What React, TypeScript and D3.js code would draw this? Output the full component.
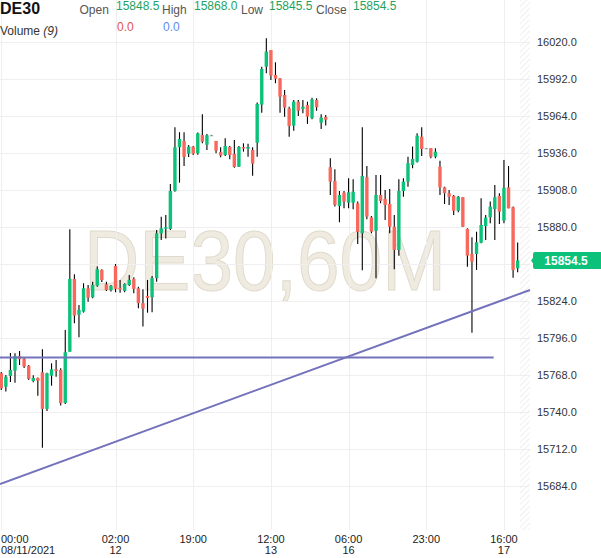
import React from 'react';
import * as d3 from 'd3';

// hourly candles
const opens = [
  15769.1, 15758.9, 15767.0, 15771.1, 15782.2, 15779.9, 15774.8, 15763.3, 15765.5, 15769.8,
  15742.1, 15767.3, 15772.1, 15771.6, 15746.6, 15785.4, 15840.5, 15813.4, 15815.7, 15833.4,
  15826.6, 15835.4, 15847.3, 15836.4, 15832.1, 15850.3, 15833.6, 15831.4, 15835.9, 15840.5,
  15833.4, 15822.1, 15827.6, 15826.6, 15841.0, 15875.0, 15878.5, 15878.3, 15907.0, 15940.1,
  15944.9, 15935.3, 15940.6, 15935.6, 15949.4, 15942.0, 15949.2, 15944.9, 15936.6, 15934.3,
  15940.3, 15935.1, 15925.4, 15940.3, 15939.1, 15938.1, 15943.6, 15972.4, 16001.1, 16013.7,
  15994.8, 15992.3, 15979.7, 15969.6, 15956.5, 15974.6, 15969.1, 15972.1, 15962.1, 15975.9,
  15958.7, 15963.0, 15925.0, 15914.6, 15895.7, 15905.8, 15898.2, 15898.2, 15897.7, 15875.0,
  15917.4, 15887.1, 15876.8, 15904.0, 15901.0, 15897.2, 15880.0, 15862.4, 15907.0, 15914.1,
  15926.7, 15929.2, 15948.1, 15939.4, 15939.4, 15933.0, 15925.4, 15909.8, 15905.3, 15903.3,
  15892.1, 15902.3, 15878.3, 15859.4, 15859.4, 15867.9, 15880.5, 15887.1, 15893.4, 15903.3,
  15884.6, 15909.8, 15894.7, 15848.5,
];
const highs = [
  15770.1, 15767.8, 15784.5, 15784.2, 15786.0, 15780.7, 15775.4, 15767.6, 15765.8, 15787.2,
  15769.5, 15776.6, 15779.1, 15772.9, 15801.9, 15878.0, 15844.0, 15820.8, 15837.2, 15835.9,
  15838.4, 15849.8, 15847.8, 15838.4, 15835.9, 15851.8, 15839.7, 15837.2, 15843.5, 15841.7,
  15834.6, 15832.6, 15839.7, 15842.7, 15877.5, 15887.6, 15888.9, 15912.3, 15955.2, 15951.5,
  15951.5, 15941.8, 15941.1, 15951.2, 15965.1, 15950.2, 15949.5, 15944.9, 15940.1, 15946.9,
  15941.1, 15945.6, 15941.1, 15943.1, 15942.8, 15940.1, 15973.9, 16001.1, 16022.6, 16013.7,
  16004.4, 15992.3, 15983.5, 15970.8, 15975.9, 15975.9, 15975.9, 15974.6, 15977.6, 15977.2,
  15965.1, 15964.6, 15931.8, 15923.5, 15907.0, 15907.0, 15916.7, 15915.9, 15899.0, 15955.2,
  15926.0, 15888.1, 15919.2, 15919.2, 15907.8, 15908.5, 15888.9, 15915.9, 15916.7, 15933.0,
  15940.6, 15950.7, 15955.2, 15939.6, 15939.4, 15939.4, 15930.0, 15910.3, 15907.8, 15904.0,
  15903.3, 15902.5, 15878.8, 15872.0, 15876.2, 15901.5, 15888.9, 15899.0, 15911.6, 15905.3,
  15930.5, 15925.9, 15895.2, 15868.0,
];
const lows = [
  15756.4, 15755.2, 15762.5, 15762.0, 15775.4, 15773.1, 15764.0, 15762.3, 15752.1, 15712.8,
  15740.6, 15759.7, 15766.5, 15744.6, 15745.9, 15785.4, 15806.9, 15796.4, 15815.0, 15823.3,
  15825.8, 15834.6, 15838.2, 15831.4, 15830.9, 15830.4, 15830.1, 15830.4, 15835.2, 15829.6,
  15818.3, 15804.4, 15814.9, 15815.2, 15838.4, 15870.0, 15871.0, 15877.5, 15906.5, 15913.3,
  15926.0, 15932.8, 15934.3, 15934.5, 15943.2, 15938.1, 15948.9, 15935.6, 15932.6, 15933.5,
  15931.1, 15924.7, 15925.2, 15936.8, 15933.0, 15918.6, 15933.0, 15966.3, 15996.1, 15991.1,
  15988.6, 15966.3, 15963.3, 15948.1, 15952.7, 15963.8, 15965.8, 15957.8, 15961.3, 15967.8,
  15954.0, 15956.5, 15904.0, 15895.2, 15883.4, 15894.0, 15894.0, 15893.2, 15866.9, 15847.0,
  15885.6, 15875.0, 15841.0, 15897.7, 15885.1, 15875.0, 15847.8, 15858.0, 15902.7, 15910.3,
  15924.2, 15928.5, 15933.5, 15939.2, 15931.8, 15931.8, 15904.0, 15897.2, 15896.5, 15888.9,
  15891.0, 15879.8, 15849.7, 15799.8, 15847.3, 15867.5, 15870.0, 15882.6, 15870.0, 15882.1,
  15882.6, 15893.9, 15841.4, 15845.5,
];
const closes = [
  15757.7, 15766.5, 15771.6, 15782.2, 15779.7, 15774.1, 15764.8, 15765.5, 15763.5, 15742.1,
  15769.1, 15772.1, 15770.8, 15746.4, 15785.0, 15840.5, 15812.7, 15817.0, 15833.4, 15826.3,
  15835.9, 15847.8, 15839.7, 15832.1, 15835.2, 15832.9, 15832.4, 15836.7, 15839.7, 15832.9,
  15822.1, 15818.0, 15826.1, 15841.0, 15875.0, 15878.8, 15879.6, 15907.0, 15940.1, 15946.4,
  15932.8, 15940.6, 15935.3, 15950.7, 15944.4, 15949.2, 15949.2, 15937.5, 15933.8, 15941.1,
  15934.3, 15925.2, 15940.3, 15939.1, 15940.3, 15927.7, 15972.9, 15999.4, 16012.5, 15994.3,
  15992.0, 15978.4, 15970.1, 15956.2, 15974.6, 15967.8, 15970.8, 15963.3, 15976.4, 15970.4,
  15962.5, 15961.0, 15914.1, 15896.5, 15904.0, 15899.0, 15906.1, 15906.5, 15876.2, 15918.4,
  15887.6, 15876.2, 15904.0, 15899.5, 15896.5, 15880.0, 15862.4, 15907.0, 15914.1, 15928.0,
  15931.3, 15948.9, 15938.8, 15939.4, 15933.0, 15936.8, 15909.8, 15905.3, 15902.7, 15892.1,
  15902.7, 15880.0, 15858.1, 15853.5, 15868.2, 15881.3, 15886.8, 15895.2, 15902.3, 15891.4,
  15909.5, 15893.9, 15847.3, 15854.5,
];

// x axis labels: candle index, time, date
const tickIdx = [0, 25, 42, 59, 76, 93, 110];
const tickTime = ['00:00', '02:00', '19:00', '12:00', '06:00', '23:00', '16:00'];
const tickDate = ['08/11/2021', '12', '', '13', '16', '', '17'];

const priceTicks = [15684, 15712, 15740, 15768, 15796, 15824, 15852, 15880, 15908, 15936, 15964, 15992, 16020];

// drawn lines: [index, price]
const hLine = [[-0.28, 15781], [107.75, 15781]];
const trendLine = [[-0.28, 15685.3], [115.7, 15832.1]];

const header = { open: '15848.5', high: '15868.0', low: '15845.5', close: '15854.5' };
const lastPrice = 15854.5;

const W = 601;
const H = 558;
const GREEN = '#0cc27a';
const RED = '#f9685c';
const FONT = '"Liberation Sans", Arial, sans-serif';

export default function App() {
  const x = d3.scaleLinear().domain([-0.28, 115.7]).range([0, 530]);
  const y = d3.scaleLinear().domain([15684, 16020]).range([485.7, 41.7]);
  const line = d3.line<number[]>().x(d => x(d[0])).y(d => y(d[1]));
  const bw = 3.4;

  const candles = opens.map((o, i) => ({ o, h: highs[i], l: lows[i], c: closes[i], i }));
  const ly = y(lastPrice);
  // the price badge hides the tick label behind it
  const labelTicks = priceTicks.filter(t => Math.abs(y(t) - ly) > 12);

  return (
    <svg width={W} height={H} style={{ position: 'absolute', left: 0, top: 0, background: '#fff' }} fontFamily={FONT}>
      <defs>
        <pattern id="hatch" width="4" height="4" patternUnits="userSpaceOnUse" patternTransform="rotate(45)">
          <line x1="0" y1="0" x2="0" y2="4" stroke="#e4e4e4" strokeWidth="1.2" />
        </pattern>
      </defs>
      <rect x={0} y={0} width={W} height={H} fill="#fff" />

      {/* watermark */}
      <text x={265} y={290} textAnchor="middle" fontSize={86} textLength={362} lengthAdjust="spacingAndGlyphs"
        fill="#efebe1" stroke="#dfdacb" strokeWidth={1}>DE30,60M</text>

      {/* grid */}
      {priceTicks.map(t => (
        <line key={'h' + t} x1={0} x2={530} y1={Math.round(y(t)) + 0.5} y2={Math.round(y(t)) + 0.5} stroke="#efefef" />
      ))}
      {tickIdx.map(t => (
        <line key={'v' + t} x1={Math.round(x(t)) + 0.5} x2={Math.round(x(t)) + 0.5} y1={0} y2={530} stroke="#efefef" />
      ))}
      <rect x={520} y={0} width={10} height={530} fill="url(#hatch)" />

      {/* candles */}
      {candles.map(d => {
        const cx = x(d.i);
        const top = y(Math.max(d.o, d.c));
        const bot = y(Math.min(d.o, d.c));
        const col = d.c > d.o ? GREEN : d.c < d.o ? RED : '#999';
        return (
          <g key={d.i}>
            <line x1={cx} x2={cx} y1={y(d.h)} y2={y(d.l)} stroke="#000" strokeWidth={1.1} />
            <rect x={cx - bw / 2} y={top} width={bw} height={Math.max(1, bot - top)} fill={col} />
          </g>
        );
      })}

      {/* drawn lines */}
      <path d={line(hLine) || ''} stroke="#7472bc" strokeWidth={2} fill="none" />
      <path d={line(trendLine) || ''} stroke="#7472bc" strokeWidth={2} fill="none" />

      {/* price axis */}
      {labelTicks.map(t => (
        <text key={'l' + t} x={537} y={y(t) + 4} fontSize={11} fill="#333">{t.toFixed(1)}</text>
      ))}
      <path d={`M${531},${ly} L${534},${ly - 4} L${534},${ly + 4} Z`} fill={GREEN} />
      <rect x={533} y={ly - 8.5} width={70} height={17} rx={2} fill={GREEN} />
      <text x={566} y={ly + 4.3} textAnchor="middle" fontSize={12} fontWeight="bold" fill="#fff">{lastPrice.toFixed(1)}</text>

      {/* time axis */}
      {tickIdx.map((t, k) => {
        const tx = k === 0 ? 1 : x(t);
        const anchor = k === 0 ? 'start' : 'middle';
        return (
          <g key={'t' + t} fontSize={11} fill="#222">
            <text x={tx} y={543} textAnchor={anchor}>{tickTime[k]}</text>
            {tickDate[k] && <text x={tx} y={554} textAnchor={anchor}>{tickDate[k]}</text>}
          </g>
        );
      })}

      {/* header */}
      <text x={0} y={14} fontSize={16} fontWeight="bold" fill="#111">DE30</text>
      <g fontSize={12}>
        <text x={79.5} y={13.5} fill="#555">Open</text>
        <text x={116} y={10} fill="#1ea35f">{header.open}</text>
        <text x={162} y={13.5} fill="#555">High</text>
        <text x={194} y={10} fill="#1ea35f">{header.high}</text>
        <text x={241} y={13.5} fill="#555">Low</text>
        <text x={269} y={10} fill="#1ea35f">{header.low}</text>
        <text x={316} y={13.5} fill="#555">Close</text>
        <text x={353} y={10} fill="#1ea35f">{header.close}</text>
        <text x={0} y={35} fill="#333">Volume <tspan fontStyle="italic">(9)</tspan></text>
        <text x={117} y={31} fill="#e5534b">0.0</text>
        <text x={163} y={31} fill="#5b8def">0.0</text>
      </g>
    </svg>
  );
}
